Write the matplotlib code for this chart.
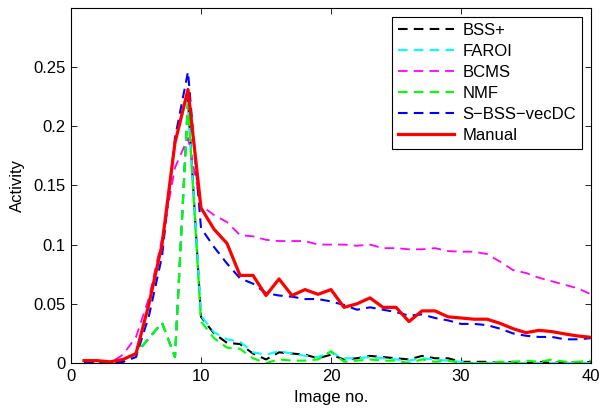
import matplotlib
matplotlib.use("Agg")
import matplotlib.pyplot as plt
import numpy as np

plt.rcParams['font.family'] = ['Liberation Sans', 'DejaVu Sans']

x = list(range(1, 41))

manual = [0.002, 0.002, 0.001, 0.003, 0.008, 0.050, 0.100, 0.186, 0.231, 0.131,
          0.113, 0.101, 0.074, 0.074, 0.057, 0.071, 0.057, 0.062, 0.058, 0.062,
          0.047, 0.050, 0.055, 0.047, 0.047, 0.035, 0.044, 0.044, 0.039, 0.038,
          0.037, 0.037, 0.0335, 0.029, 0.0256, 0.0276, 0.0265, 0.0245, 0.0228, 0.0217]

bcms = [0.0, 0.0, 0.0, 0.007, 0.022, 0.055, 0.105, 0.165, 0.190, 0.133,
        0.125, 0.119, 0.108, 0.107, 0.104, 0.103, 0.103, 0.103, 0.100, 0.100,
        0.100, 0.099, 0.100, 0.097, 0.097, 0.096, 0.096, 0.097, 0.0945, 0.094,
        0.094, 0.092, 0.0856, 0.0785, 0.076, 0.072, 0.069, 0.066, 0.063, 0.058]

sbss = [0.0, 0.0, 0.0, 0.001, 0.005, 0.040, 0.090, 0.190, 0.246, 0.114,
        0.098, 0.084, 0.0715, 0.067, 0.059, 0.057, 0.056, 0.054, 0.054, 0.052,
        0.049, 0.045, 0.047, 0.045, 0.043, 0.040, 0.041, 0.038, 0.036, 0.033,
        0.033, 0.032, 0.029, 0.025, 0.023, 0.022, 0.022, 0.020, 0.020, 0.021]

bssp = [0.0, 0.0, 0.0, 0.001, 0.008, 0.021, 0.034, 0.005, 0.222, 0.039,
        0.025, 0.017, 0.016, 0.008, 0.003, 0.009, 0.008, 0.007, 0.004, 0.007,
        0.003, 0.004, 0.006, 0.005, 0.004, 0.003, 0.006, 0.004, 0.004, 0.001,
        0.001, 0.001, 0.000, 0.001, 0.000, 0.001, 0.000, 0.001, 0.000, 0.001]

faroi = [0.0, 0.0, 0.0, 0.001, 0.008, 0.021, 0.034, 0.005, 0.220, 0.040,
         0.026, 0.020, 0.018, 0.009, 0.007, 0.010, 0.008, 0.006, 0.005, 0.009,
         0.004, 0.004, 0.005, 0.004, 0.003, 0.002, 0.004, 0.003, 0.002, 0.001,
         0.000, 0.000, 0.000, 0.000, 0.000, 0.000, 0.000, 0.000, 0.000, 0.000]

nmf = [0.0, 0.0, 0.0, 0.001, 0.008, 0.021, 0.034, 0.005, 0.218, 0.035,
       0.021, 0.013, 0.012, 0.004, 0.000, 0.003, 0.002, 0.002, 0.003, 0.010,
       0.001, 0.002, 0.003, 0.002, 0.002, 0.000, 0.003, 0.001, 0.002, 0.000,
       0.000, 0.000, 0.001, 0.001, 0.002, 0.001, 0.003, 0.001, 0.001, 0.002]

xticks = [0, 10, 20, 30, 40]
yticks = [0, 0.05, 0.1, 0.15, 0.2, 0.25]
ytick_labels = ['0', '0.05', '0.1', '0.15', '0.2', '0.25']

fig = plt.figure(figsize=(6.0, 4.08), dpi=100)
ax = fig.add_axes([71/600, 1-363/408, 520/600, 355/408])

dash = (4.6, 3.0)
ax.plot(x, bssp, color='black', lw=1.5, dashes=dash, label='BSS+')
ax.plot(x, faroi, color='cyan', lw=1.5, dashes=dash, label='FAROI')
ax.plot(x, bcms, color='magenta', lw=1.3, dashes=(5.3, 3.4), label='BCMS')
ax.plot(x, nmf, color='#00ff00', lw=1.5, dashes=dash, label='NMF')
ax.plot(x, sbss, color='blue', lw=1.5, dashes=dash, label='S\u2212BSS\u2212vecDC')
ax.plot(x, manual, color='red', lw=2.3, label='Manual')

ax.set_xlim(0, 40)
ax.set_ylim(0, 0.2998)
ax.set_xticks(xticks)
ax.set_yticks(yticks)
ax.set_yticklabels(ytick_labels)
ax.tick_params(direction='in', top=True, right=True, labelsize=12, length=4, width=0.6)
ax.tick_params(axis='x', pad=4.5)
ax.tick_params(axis='y', pad=4)
for s in ax.spines.values():
    s.set_linewidth(0.8)
ax.set_xlabel('Image no.', fontsize=12, labelpad=4)
ax.set_ylabel('Activity', fontsize=12, labelpad=6)

leg = ax.legend(loc='upper right', bbox_to_anchor=(582/600, 1-17/408), bbox_transform=fig.transFigure,
                fontsize=12, handlelength=3.4, handletextpad=0.5, labelspacing=0.36,
                borderpad=0.35, borderaxespad=0, fancybox=False, framealpha=1, edgecolor='black')
leg.get_frame().set_linewidth(0.8)

fig.savefig('out.png', dpi=100)
